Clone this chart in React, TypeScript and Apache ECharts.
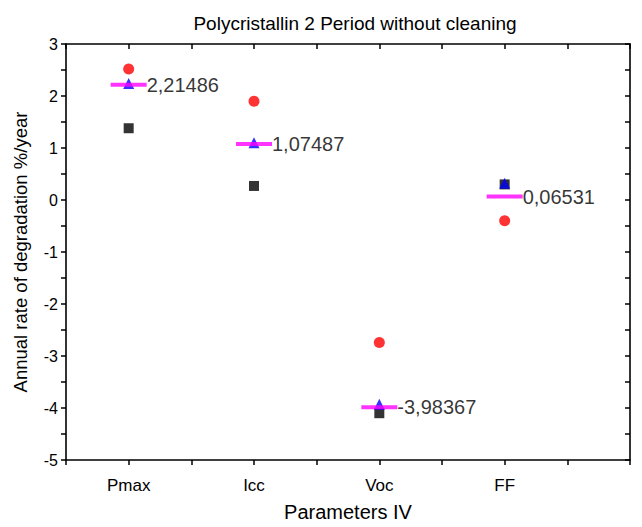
import React, { useEffect, useRef } from "react";
import * as echarts from "echarts";

const categories = ["Pmax", "Icc", "Voc", "FF"];
const squareValues = [1.38, 0.27, -4.1, 0.3];
const circleValues = [2.52, 1.9, -2.74, -0.4];
const triangleValues = [2.24, 1.1, -3.93, 0.32];
const meanValues = [2.21486, 1.07487, -3.98367, 0.06531];
const meanLabels = ["2,21486", "1,07487", "-3,98367", "0,06531"];

const FONT = "'Liberation Sans', Arial, sans-serif";

export default function App() {
  const ref = useRef<HTMLDivElement>(null);
  useEffect(() => {
    if (!ref.current) return;
    const chart = echarts.init(ref.current, null, { renderer: "svg" });
    const pts = (vals: number[]) => vals.map((v, i) => [i + 1, v]);
    const axisLine = { show: true, onZero: false, lineStyle: { color: "#000", width: 1.6 } };
    const tickOut = { show: true, inside: false, length: 5, lineStyle: { color: "#000", width: 1.5 } };
    const tickIn = { show: true, inside: true, length: 5, lineStyle: { color: "#000", width: 1.5 } };
    chart.setOption({
      animation: false,
      backgroundColor: "#fff",
      title: {
        text: "Polycristallin 2 Period without cleaning",
        left: 350,
        textAlign: "center",
        top: 9,
        textStyle: { fontFamily: FONT, fontSize: 19, fontWeight: "normal", color: "#000" },
      },
      grid: { left: 66, right: 12, top: 44, bottom: 67, containLabel: false },
      xAxis: [
        {
          type: "value",
          min: 0.5,
          max: 5,
          interval: 0.5,
          name: "Parameters IV",
          nameLocation: "middle",
          nameGap: 42,
          nameTextStyle: { fontFamily: FONT, fontSize: 20, color: "#000" },
          axisLine,
          axisTick: tickOut,
          axisLabel: {
            fontFamily: FONT,
            fontSize: 17,
            color: "#000",
            margin: 17,
            formatter: (v: number) => (Number.isInteger(v) && v >= 1 && v <= 4 ? categories[v - 1] : ""),
          },
          splitLine: { show: false },
        },
        {
          type: "value",
          position: "top",
          min: 0.5,
          max: 5,
          interval: 0.5,
          axisLine,
          axisTick: tickIn,
          axisLabel: { show: false },
          splitLine: { show: false },
        },
      ],
      yAxis: [
        {
          type: "value",
          min: -5,
          max: 3,
          interval: 0.5,
          name: "Annual rate of degradation %/year",
          nameLocation: "middle",
          nameGap: 36,
          nameTextStyle: { fontFamily: FONT, fontSize: 18.5, color: "#000" },
          axisLine,
          axisTick: tickOut,
          axisLabel: {
            fontFamily: FONT,
            fontSize: 16,
            color: "#000",
            margin: 8,
            formatter: (v: number) => (Number.isInteger(v) ? String(v) : ""),
          },
          splitLine: { show: false },
        },
        {
          type: "value",
          position: "right",
          min: -5,
          max: 3,
          interval: 0.5,
          axisLine,
          axisTick: tickIn,
          axisLabel: { show: false },
          splitLine: { show: false },
        },
      ],
      series: [
        {
          type: "scatter",
          data: pts(squareValues),
          symbol: "rect",
          symbolSize: 10,
          itemStyle: { color: "#000" },
          z: 2,
        },
        {
          type: "scatter",
          data: pts(circleValues),
          symbol: "circle",
          symbolSize: 11,
          itemStyle: { color: "#ff0000" },
          z: 3,
        },
        {
          type: "scatter",
          data: pts(triangleValues),
          symbol: "triangle",
          symbolSize: 11,
          itemStyle: { color: "#0000ff" },
          z: 4,
        },
        {
          type: "scatter",
          data: pts(meanValues),
          symbol: "rect",
          symbolSize: [36, 4],
          itemStyle: { color: "#ff00ff" },
          z: 5,
          label: {
            show: true,
            position: "right",
            distance: 0,
            fontFamily: FONT,
            fontSize: 20,
            color: "#000",
            textBorderWidth: 0,
            formatter: (p: any) => meanLabels[p.dataIndex],
          },
        },
      ],
    });
    return () => chart.dispose();
  }, []);
  return <div ref={ref} style={{ width: 642, height: 527, position: "absolute", left: 0, top: 0 }} />;
}
